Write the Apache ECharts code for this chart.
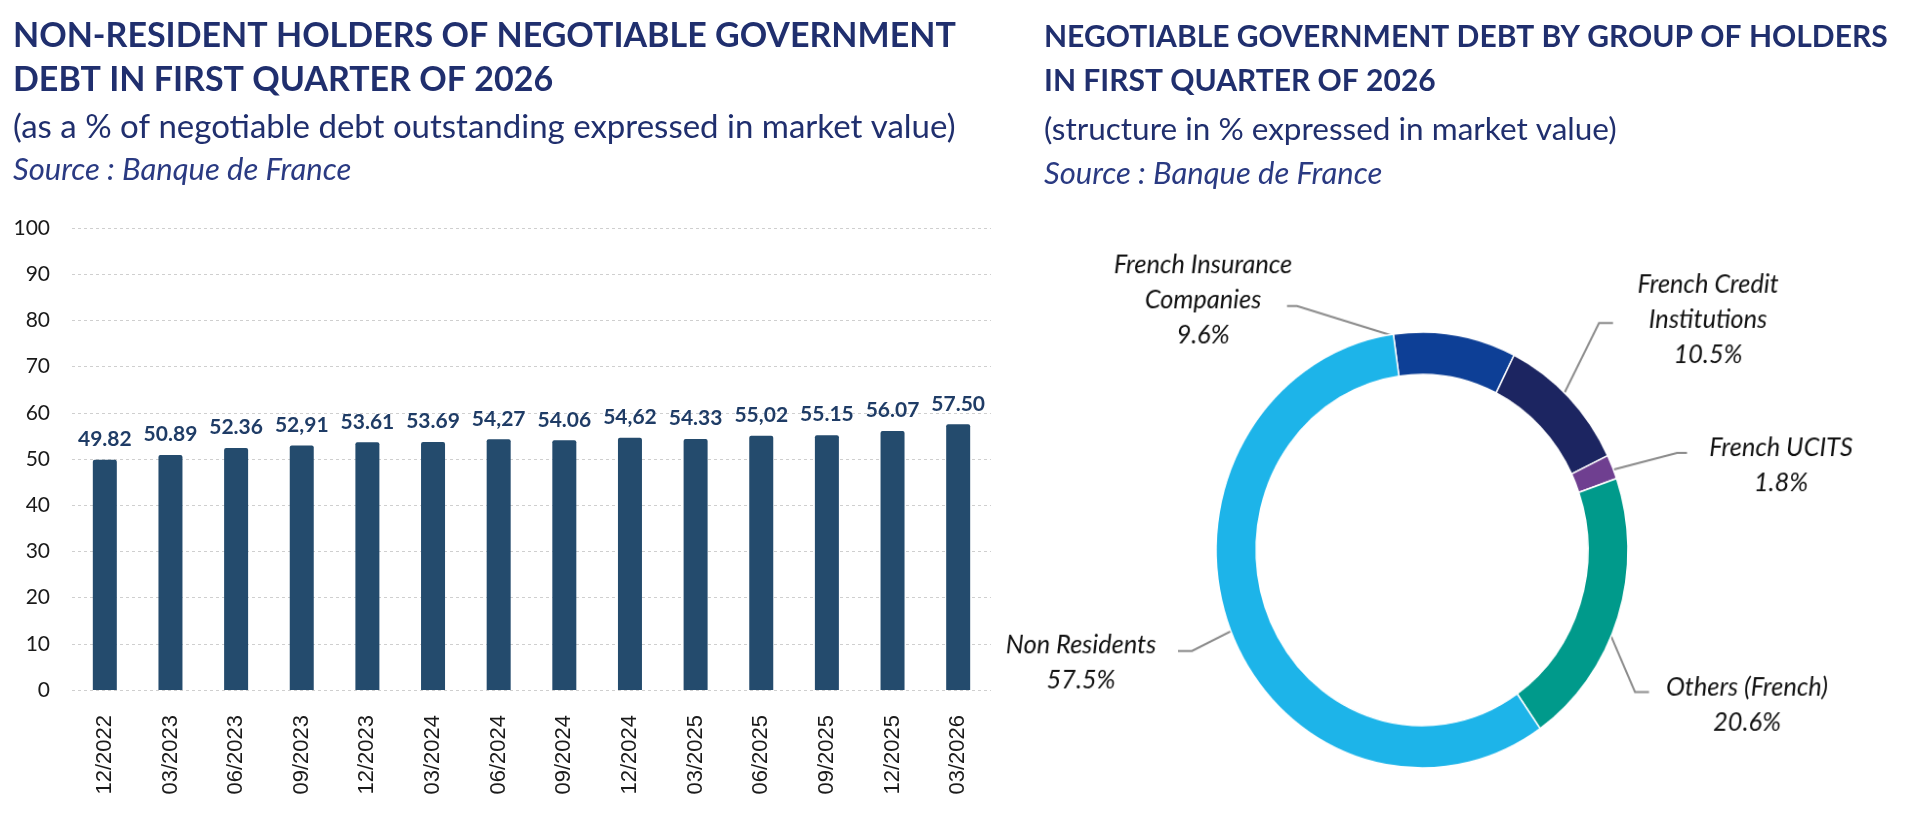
<!DOCTYPE html>
<html>
<head>
<meta charset="utf-8">
<script src="https://cdn.jsdelivr.net/npm/echarts@6/dist/echarts.min.js"></script>
<style>
  html, body { margin: 0; padding: 0; background: #ffffff; }
  #chart { position: absolute; left: 0; top: 0; width: 1914px; height: 822px; }
  #ring { position: absolute; left: 0; top: 0; width: 1914px; height: 822px; pointer-events: none; }
</style>
</head>
<body>
<div id="chart"></div>
<div id="ring"></div>
<script>
// left panel: non-resident share by quarter
const quarters = ["12/2022", "03/2023", "06/2023", "09/2023", "12/2023", "03/2024", "06/2024",
  "09/2024", "12/2024", "03/2025", "06/2025", "09/2025", "12/2025", "03/2026"];
const nonResidentShare = [49.82, 50.89, 52.36, 52.91, 53.61, 53.69, 54.27, 54.06, 54.62, 54.33, 55.02, 55.15, 56.07, 57.50];
// labels as printed in the source (mixed decimal separators)
const shareLabels = ["49.82", "50.89", "52.36", "52,91", "53.61", "53.69", "54,27", "54.06", "54,62", "54.33",
  "55,02", "55.15", "56.07", "57.50"];

// right panel: holders structure
const holderNames = ["French Insurance\nCompanies", "French Credit\nInstitutions", "French UCITS", "Others (French)", "Non Residents"];
const holderShares = [9.6, 10.5, 1.8, 20.6, 57.5];
const holderColors = ["#0d3f96", "#1c2561", "#6f3f90", "#009a8b", "#1db4e9"];

const navy = "#202f6e";
const pieCenter = [1422, 550];
const pieRadius = [170, 211];
const pieStart = 98;
// the source ring is slightly oval: squeeze x, stretch y around its centre
const ringScale = [0.976, 1.033];

// where each label block sits on the page, plus its leader elbow and end
const labelSpots = [
  { x: 1203, y: 300, elbow: [1297, 306], end: [1287, 306] },
  { x: 1708, y: 319, elbow: [1599, 323], end: [1613, 323] },
  { x: 1781, y: 465, elbow: [1677, 453], end: [1687, 453] },
  { x: 1747, y: 705, elbow: [1635, 692], end: [1649, 692] },
  { x: 1081, y: 662, elbow: [1192, 651], end: [1178, 651] },
];

// page point -> point inside the scaled ring layer
function unscale(p) {
  return [
    pieCenter[0] + (p[0] - pieCenter[0]) / ringScale[0],
    pieCenter[1] + (p[1] - pieCenter[1]) / ringScale[1],
  ];
}

function midAngle(index) {
  const total = holderShares.reduce((a, b) => a + b, 0);
  let before = 0;
  for (let i = 0; i < index; i++) before += holderShares[i];
  const deg = (90 - pieStart) + (before + holderShares[index] / 2) / total * 360;
  return deg * Math.PI / 180;
}

function leaderStart(index) {
  const r = 192;
  const a = midAngle(index);
  return [pieCenter[0] + r * Math.sin(a), pieCenter[1] - r * Math.cos(a)];
}

const ringBox = document.getElementById("ring");
ringBox.style.transformOrigin = pieCenter[0] + "px " + pieCenter[1] + "px";
ringBox.style.transform = "scale(" + ringScale[0] + "," + ringScale[1] + ")";

const chart = echarts.init(document.getElementById("chart"));
const ring = echarts.init(ringBox);

chart.setOption({
  backgroundColor: "#ffffff",
  animation: false,
  title: [
    {
      text: "NON-RESIDENT HOLDERS OF NEGOTIABLE GOVERNMENT\nDEBT IN FIRST QUARTER OF 2026",
      left: 13, top: 14, padding: 0,
      textStyle: { fontFamily: "Lato", fontWeight: "bold", fontSize: 34, lineHeight: 44, color: navy },
    },
    {
      text: "(as a % of negotiable debt outstanding expressed in market value)",
      left: 13, top: 108, padding: 0,
      textStyle: { fontFamily: "Lato", fontWeight: "normal", fontSize: 33, lineHeight: 38, color: navy },
    },
    {
      text: "Source : Banque de France",
      left: 13, top: 152, padding: 0,
      textStyle: { fontFamily: "Lato", fontWeight: "normal", fontStyle: "italic", fontSize: 31, lineHeight: 36, color: "#2a3a82" },
    },
    {
      text: "NEGOTIABLE GOVERNMENT DEBT BY GROUP OF HOLDERS\nIN FIRST QUARTER OF 2026",
      left: 1044, top: 15, padding: 0,
      textStyle: { fontFamily: "Lato", fontWeight: "bold", fontSize: 30, lineHeight: 44, color: navy },
    },
    {
      text: "(structure in % expressed in market value)",
      left: 1044, top: 111, padding: 0,
      textStyle: { fontFamily: "Lato", fontWeight: "normal", fontSize: 31.5, lineHeight: 38, color: navy },
    },
    {
      text: "Source : Banque de France",
      left: 1044, top: 156, padding: 0,
      textStyle: { fontFamily: "Lato", fontWeight: "normal", fontStyle: "italic", fontSize: 31, lineHeight: 36, color: "#2a3a82" },
    },
  ],
  grid: { left: 72, top: 228, width: 919, height: 462, containLabel: false },
  xAxis: {
    type: "category",
    data: quarters,
    axisLine: { show: false },
    axisTick: { show: false },
    axisLabel: {
      rotate: 90, margin: 25, interval: 0,
      fontFamily: "Liberation Sans", fontSize: 22, color: "#1a1a1a",
    },
  },
  yAxis: {
    type: "value",
    min: 0, max: 100, interval: 10,
    axisLine: { show: false },
    axisTick: { show: false },
    axisLabel: { margin: 22, fontFamily: "Lato", fontSize: 21, color: "#1a1a1a" },
    splitLine: { lineStyle: { color: "#cfcfcf", type: [3, 3], width: 1 } },
  },
  series: [
    {
      type: "bar",
      data: nonResidentShare,
      barWidth: 24,
      itemStyle: { color: "#244b6d", borderRadius: [2, 2, 0, 0] },
      label: {
        show: true, position: "top", distance: 10,
        formatter: (p) => shareLabels[p.dataIndex],
        fontFamily: "Lato", fontWeight: "bold", fontSize: 21, color: "#1f3c66",
      },
    },
  ],
});

ring.setOption({
  backgroundColor: "transparent",
  animation: false,
  series: [
    {
      type: "pie",
      center: pieCenter,
      radius: pieRadius,
      startAngle: pieStart,
      clockwise: true,
      avoidLabelOverlap: false,
      data: holderNames.map((name, i) => ({
        name: name,
        value: holderShares[i],
        itemStyle: { color: holderColors[i] },
      })),
      itemStyle: { borderColor: "#ffffff", borderWidth: 1.5 },
      emphasis: { disabled: true },
      label: {
        show: true, position: "outside",
        formatter: (p) => p.name + "\n" + p.value.toFixed(1) + "%",
        fontFamily: "Lato", fontStyle: "italic", fontSize: 26, lineHeight: 34,
        color: "#111111", align: "center",
      },
      labelLine: { show: true, lineStyle: { color: "#8c8c8c", width: 2 } },
      labelLayout: (params) => {
        const spot = labelSpots[params.dataIndex];
        const at = unscale([spot.x, spot.y]);
        return {
          x: at[0], y: at[1], align: "center", verticalAlign: "middle",
          labelLinePoints: [leaderStart(params.dataIndex), unscale(spot.elbow), unscale(spot.end)],
        };
      },
    },
  ],
});
</script>
</body>
</html>
